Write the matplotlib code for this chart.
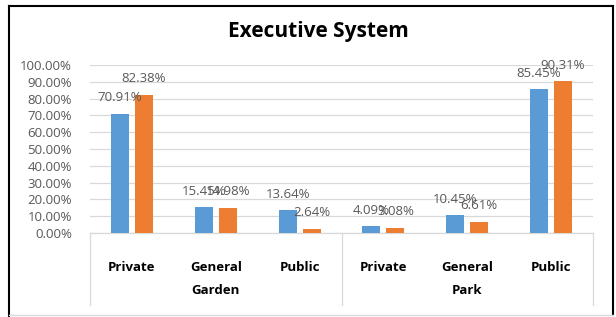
import matplotlib
matplotlib.use("Agg")
import matplotlib.pyplot as plt
import matplotlib.transforms as mtransforms
from matplotlib.lines import Line2D
import numpy as np

categories = ["Private", "General", "Public", "Private", "General", "Public"]
groups = ["Garden", "Park"]
series_blue = [70.91, 15.45, 13.64, 4.09, 10.45, 85.45]
series_orange = [82.38, 14.98, 2.64, 3.08, 6.61, 90.31]
yticks = [0, 10, 20, 30, 40, 50, 60, 70, 80, 90, 100]

plt.rcParams['font.family'] = ['Open Sans', 'DejaVu Sans']

W, H = 616, 317
fig = plt.figure(figsize=(W / 100, H / 100), dpi=100)
fig.patch.set_facecolor('white')

def fx(px):
    return px / W

def fy(py):
    return 1 - py / H

ax = fig.add_axes([fx(90), fy(233), fx(593) - fx(90), fy(65) - fy(233)])

x = np.arange(len(categories))
bw = 0.215
off = 0.143
blue = '#5B9BD5'
orange = '#ED7D31'
gray_txt = '#595959'

ax.bar(x - off, series_blue, bw, color=blue, zorder=3)
ax.bar(x + off, series_orange, bw, color=orange, zorder=3)

for xi, v in zip(x, series_blue):
    ax.annotate(f"{v:.2f}%", (xi - off, v), xytext=(0, 16), textcoords='offset pixels',
                ha='center', va='center', fontsize=9.5, color=gray_txt, annotation_clip=False, zorder=5)
for xi, v in zip(x, series_orange):
    ax.annotate(f"{v:.2f}%", (xi + off, v), xytext=(0, 16), textcoords='offset pixels',
                ha='center', va='center', fontsize=9.5, color=gray_txt, annotation_clip=False, zorder=6)

ax.set_xlim(-0.5, len(categories) - 0.5)
ax.set_ylim(0, 100)
ax.set_yticks(yticks)
ax.set_yticklabels([f"{t:.2f}%" for t in yticks], fontsize=9.5, color=gray_txt)
ax.tick_params(axis='y', length=0, pad=13)
ax.yaxis.grid(True, color='#d9d9d9', lw=0.9, zorder=0)
ax.set_axisbelow(True)
for s in ['top', 'right', 'left']:
    ax.spines[s].set_visible(False)
ax.spines['bottom'].set_color('#d9d9d9')
ax.spines['bottom'].set_linewidth(0.9)

ax.set_xticks(x)
ax.set_xticklabels(categories, fontsize=9.5, fontweight='bold', color='black')
ax.tick_params(axis='x', length=0, pad=20)

trans = mtransforms.blended_transform_factory(ax.transData, ax.transAxes)
for sep in [-0.5, 2.5, 5.5]:
    ax.plot([sep, sep], [0, -72 / 168], transform=trans, color='#d9d9d9', lw=0.9, clip_on=False)
for gi, g in enumerate(groups):
    ax.text(gi * 3 + 1, -(291 - 233) / 168, g, transform=trans, ha='center', va='center',
            fontsize=9.5, fontweight='bold', color='black')

fig.text(fx(318), fy(31), "Executive System", ha='center', va='center',
         fontsize=15, fontweight='bold', color='black')

# outer frame
fig.add_artist(Line2D([fx(9), fx(9)], [fy(6), fy(317)], color='black', lw=1.5))
fig.add_artist(Line2D([fx(9), fx(613)], [fy(6), fy(6)], color='black', lw=1.5))
fig.add_artist(Line2D([fx(613), fx(613)], [fy(6), fy(315)], color='black', lw=1.5))
fig.add_artist(Line2D([fx(9), fx(613)], [fy(315), fy(315)], color='#d9d9d9', lw=1.0))

fig.savefig("out.png", dpi=100)
